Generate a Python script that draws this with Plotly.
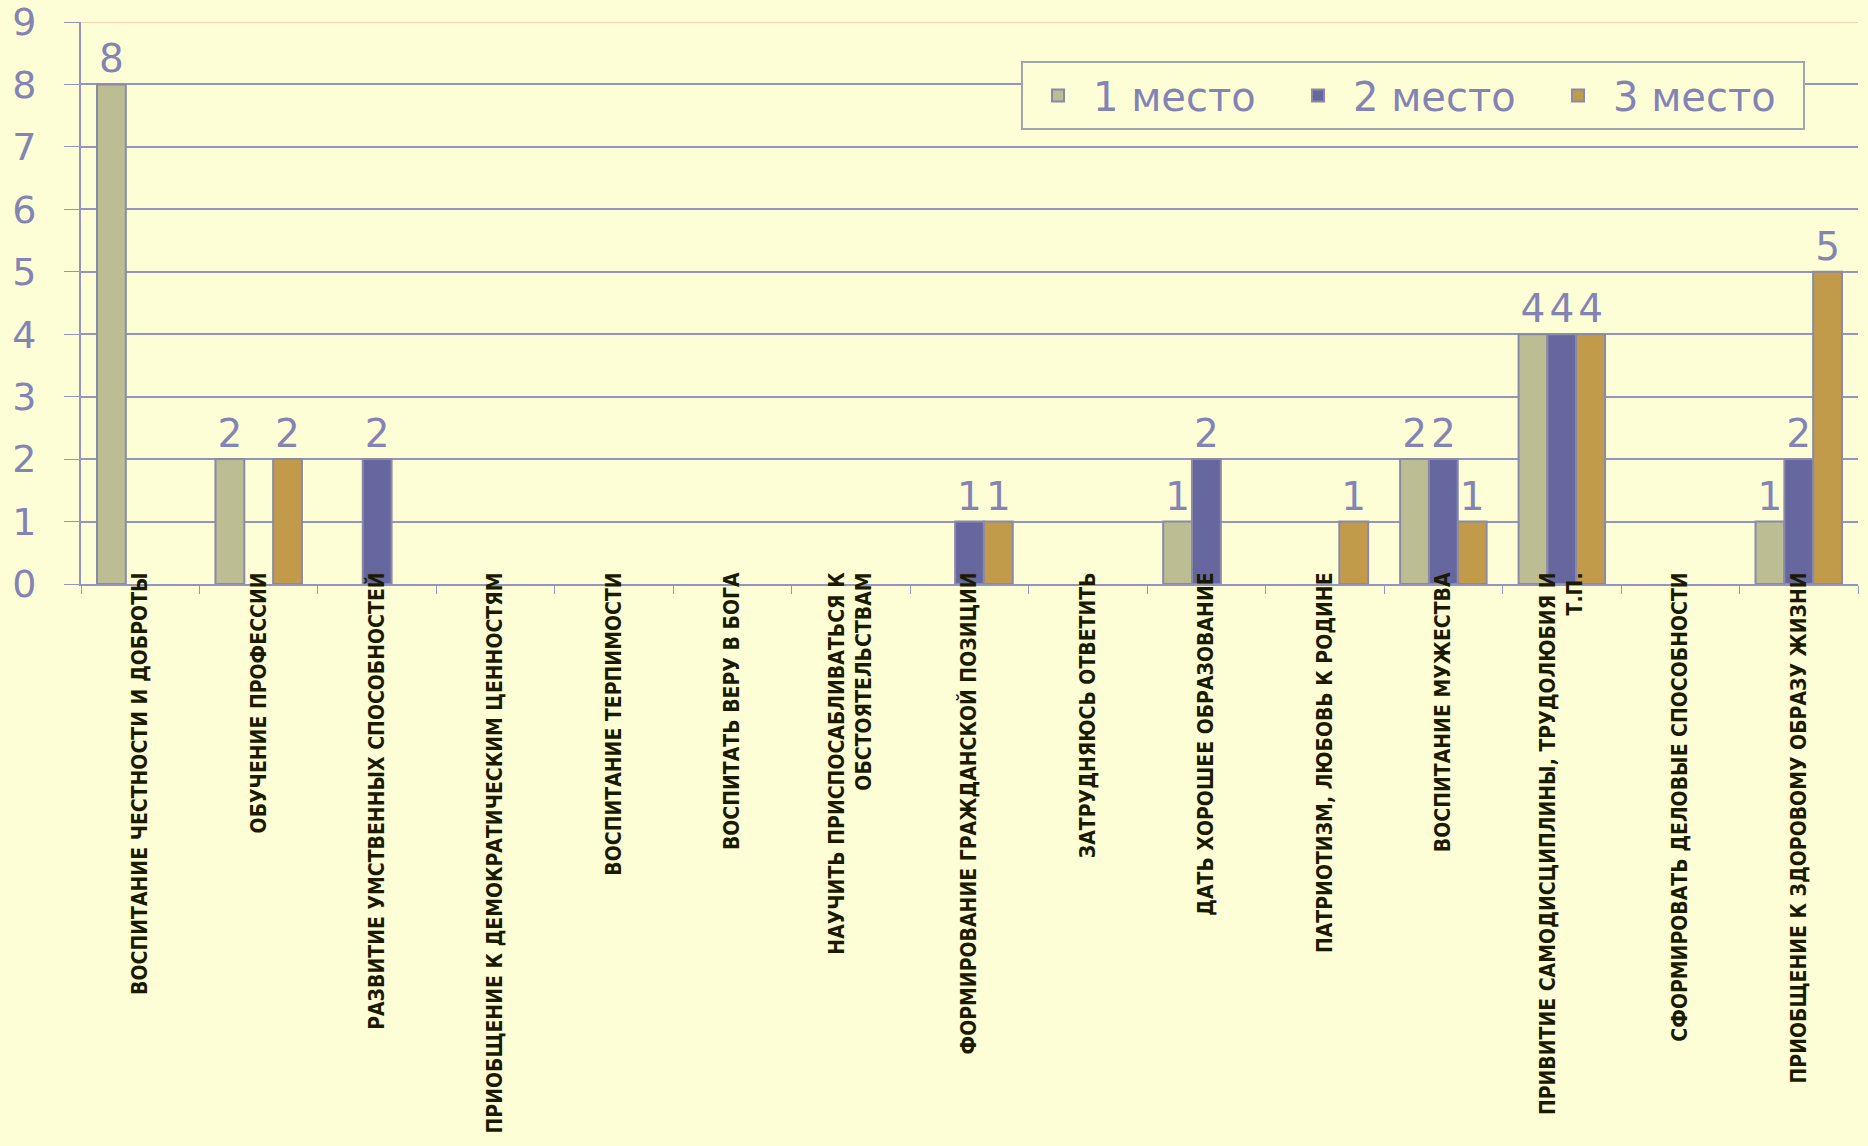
import plotly.graph_objects as go

categories = [
    "ВОСПИТАНИЕ ЧЕСТНОСТИ И ДОБРОТЫ",
    "ОБУЧЕНИЕ ПРОФЕССИИ",
    "РАЗВИТИЕ УМСТВЕННЫХ СПОСОБНОСТЕЙ",
    "ПРИОБЩЕНИЕ К ДЕМОКРАТИЧЕСКИМ ЦЕННОСТЯМ",
    "ВОСПИТАНИЕ ТЕРПИМОСТИ",
    "ВОСПИТАТЬ ВЕРУ В БОГА",
    "НАУЧИТЬ ПРИСПОСАБЛИВАТЬСЯ К<br>ОБСТОЯТЕЛЬСТВАМ",
    "ФОРМИРОВАНИЕ ГРАЖДАНСКОЙ ПОЗИЦИИ",
    "ЗАТРУДНЯЮСЬ ОТВЕТИТЬ",
    "ДАТЬ ХОРОШЕЕ ОБРАЗОВАНИЕ",
    "ПАТРИОТИЗМ, ЛЮБОВЬ К РОДИНЕ",
    "ВОСПИТАНИЕ МУЖЕСТВА",
    "ПРИВИТИЕ САМОДИСЦИПЛИНЫ, ТРУДОЛЮБИЯ И<br>Т.П.",
    "СФОРМИРОВАТЬ ДЕЛОВЫЕ СПОСОБНОСТИ",
    "ПРИОБЩЕНИЕ К ЗДОРОВОМУ ОБРАЗУ ЖИЗНИ",
]

series_names = ["1 место", "2 место", "3 место"]
place1 = [8, 2, 0, 0, 0, 0, 0, 0, 0, 1, 0, 2, 4, 0, 1]
place2 = [0, 0, 2, 0, 0, 0, 0, 1, 0, 2, 0, 2, 4, 0, 2]
place3 = [0, 2, 0, 0, 0, 0, 0, 1, 0, 0, 1, 1, 4, 0, 5]
y_ticks = [0, 1, 2, 3, 4, 5, 6, 7, 8, 9]

colors = ["#bcbd93", "#67679f", "#c29b4a"]
outline = "#8a8aa8"
label_color = "#8484b4"
grid_color = "#9494c0"
bg = "#fefed6"

fig = go.Figure()
for name, vals, col in zip(series_names, [place1, place2, place3], colors):
    fig.add_trace(go.Bar(
        name=name,
        x=categories,
        y=[v if v else None for v in vals],
        marker=dict(color=col, line=dict(color=outline, width=2)),
        text=[str(v) if v else "" for v in vals],
        textposition="outside",
        constraintext="none",
        cliponaxis=False,
        textfont=dict(family="DejaVu Sans", size=39, color=label_color),
    ))

fig.add_shape(type="line", xref="paper", yref="y", x0=0, x1=1, y0=9, y1=9,
              line=dict(color="#f2c9a0", width=1.5), layer="below")

fig.update_layout(
    width=1868, height=1146,
    barmode="group", bargap=0.27, bargroupgap=0,
    paper_bgcolor=bg, plot_bgcolor=bg,
    margin=dict(l=81, r=10, t=22, b=562, autoexpand=False),
    showlegend=True,
    legend=dict(
        orientation="h",
        x=0.529, y=0.9306, xanchor="left", yanchor="top",
        bgcolor=bg, bordercolor="#a4a4ac", borderwidth=2,
        font=dict(family="DejaVu Sans", size=40, color=label_color),
        entrywidth=185,
        itemwidth=60,
        traceorder="normal",
    ),
)

fig.update_xaxes(
    type="category",
    tickangle=-90,
    tickfont=dict(family="DejaVu Sans Condensed", size=21,
                  color="#1a1a00", weight="bold"),
    showline=True, linecolor=grid_color, linewidth=2,
    ticks="outside", tickson="boundaries", ticklen=8, tickcolor=grid_color,
    showgrid=False, automargin=False,
    ticklabelstandoff=-22,
)
fig.update_yaxes(
    range=[0, 9], tickvals=y_ticks,
    tickfont=dict(family="DejaVu Sans", size=38, color=label_color),
    showline=True, linecolor=grid_color, linewidth=2,
    ticks="outside", ticklen=15, tickcolor=grid_color,
    showgrid=True, gridcolor=grid_color, gridwidth=1.5,
    zeroline=False, automargin=False,
    ticklabelstandoff=20,
)

fig.write_html("out.html", config={"displayModeBar": False},
               post_script="document.body.style.margin='0';document.body.style.background='%s';" % bg)
